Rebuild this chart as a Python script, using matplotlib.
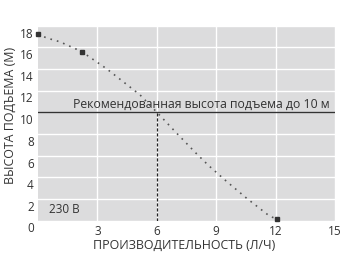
import numpy as np
import matplotlib
matplotlib.use('Agg')
import matplotlib.pyplot as plt
from matplotlib.transforms import ScaledTranslation

plt.rcParams['font.family'] = ['Open Sans', 'DejaVu Sans']

# pump curve
flow = [0, 0.44, 1.1, 2.2, 3.47, 5.15, 6.0, 6.93, 7.96, 8.6, 9.53, 10.54, 11.7, 12.05]
head = [17.2, 16.85, 16.5, 15.6, 14.0, 11.6, 10.0, 8.2, 6.25, 5.1, 3.6, 2.05, 0.4, 0.15]
marker_flow = [0, 2.2, 12.05]
marker_head = [17.2, 15.6, 0.15]
rec_head = 10
rec_flow = 6
xticks = [3, 6, 9, 12, 15]
yticks = [0, 2, 4, 6, 8, 10, 12, 14, 16, 18]

fig = plt.figure(figsize=(3.49, 2.57), dpi=100)
ax = fig.add_axes([38/349, 1-220.5/257, 297/349, 195/257])
ax.set_facecolor('#dcdcdd')
for s in ax.spines.values():
    s.set_visible(False)

ax.set_xlim(0, 15)
ax.set_ylim(0, 18)
ax.set_xticks(xticks)
ax.set_yticks(yticks)
ax.grid(color='white', linewidth=1)
ax.set_axisbelow(True)
ax.tick_params(length=0, labelsize=8.5, colors='#333333', pad=3)
# y labels sit a little below their gridlines in the original
shift = ScaledTranslation(0, -7/100, fig.dpi_scale_trans)
for lab in ax.get_yticklabels():
    lab.set_transform(lab.get_transform() + shift)

ax.axhline(rec_head, color='#333333', linewidth=1, zorder=3)
ax.plot([rec_flow, rec_flow], [0, rec_head], color='#222222', linestyle=(0, (2.5, 1.5)), linewidth=0.9, zorder=3)
ax.plot(flow, head, color='#555555', linestyle=(0, (1, 3)), linewidth=1.2, zorder=4)
ax.plot(marker_flow, marker_head, 's', color='#333333', markersize=2.2, zorder=5, clip_on=False)

ax.text(1.77, 10.35, 'Рекомендованная высота подъема до 10 м', fontsize=8.8, color='#333333', va='baseline')
ax.text(0.55, 1.06, '230 В', fontsize=8.5, color='#333333', va='center')

fig.text(184/349, 1-245/257, 'ПРОИЗВОДИТЕЛЬНОСТЬ (Л/Ч)', fontsize=8.9, color='#333333', ha='center', va='center')
fig.text(10/349, 1-115/257, 'ВЫСОТА ПОДЪЕМА (М)', fontsize=8.9, color='#333333', ha='center', va='center', rotation=90)

fig.savefig('out.png', dpi=100)
